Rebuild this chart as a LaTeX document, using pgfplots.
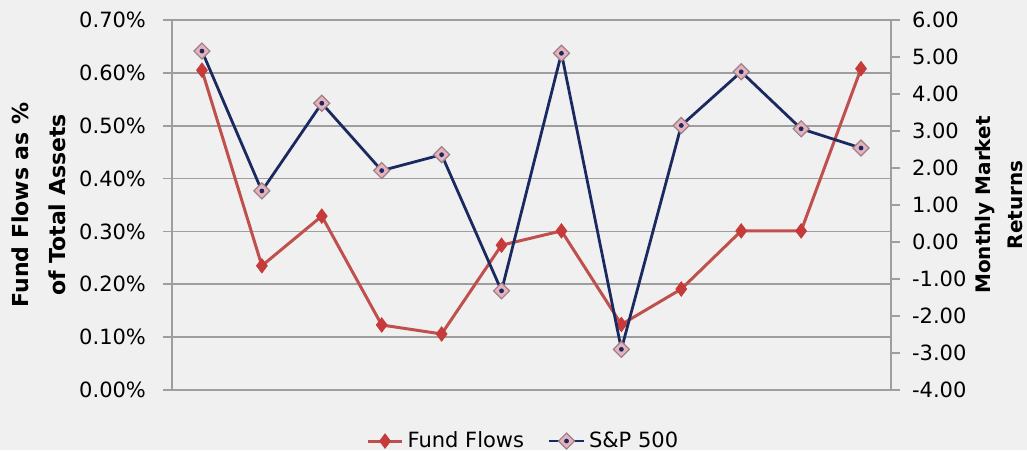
\documentclass[border=0pt]{standalone}
\usepackage{fontspec}
\setmainfont{DejaVu Sans}
\usepackage{pgfplots}
\pgfplotsset{compat=1.18}
\definecolor{bgc}{HTML}{F0F0F0}
\definecolor{gridc}{HTML}{9E9E9E}
\definecolor{fundred}{HTML}{C0504D}
\definecolor{fundmark}{HTML}{C63A3A}
\definecolor{spnavy}{HTML}{1A2A60}
\definecolor{spfill}{HTML}{E8B2BC}
\definecolor{spedge}{HTML}{9A8088}

% diamond with a small navy dot in the middle
\pgfdeclareplotmark{spdiamond}{%
  \pgfpathmoveto{\pgfqpoint{0pt}{\pgfplotmarksize}}%
  \pgfpathlineto{\pgfqpoint{\pgfplotmarksize}{0pt}}%
  \pgfpathlineto{\pgfqpoint{0pt}{-\pgfplotmarksize}}%
  \pgfpathlineto{\pgfqpoint{-\pgfplotmarksize}{0pt}}%
  \pgfpathclose
  \pgfsetfillcolor{spfill}\pgfsetstrokecolor{spedge}\pgfsetlinewidth{0.6pt}%
  \pgfusepathqfillstroke
  \pgfpathcircle{\pgfpointorigin}{0.3\pgfplotmarksize}%
  \pgfsetfillcolor{spnavy}%
  \pgfusepathqfill
}

\pgfplotsset{
  fund/.style={color=fundred, line width=1.5pt, mark=diamond*, mark size=3.6pt,
    mark options={fill=fundmark, draw=fundmark, line width=0.4pt}},
  sp/.style={color=spnavy, line width=1.4pt, mark=spdiamond, mark size=4pt},
  common/.style={scale only axis, width=359.5pt, height=185pt,
    xmin=-0.5, xmax=11.5, xtick=\empty,
    /pgf/number format/assume math mode=true,
    ticklabel style={font=\fontsize{10.5}{12}\selectfont},
    tick style={gridc, line width=0.9pt},
    tick align=outside, major tick length=4.5pt,
    axis line style={gridc, line width=0.9pt, -},
    every axis y label/.style={rotate=90, anchor=center, align=center}},
}

\begin{document}
\begin{tikzpicture}
\fill[bgc] (-86pt,-30pt) rectangle (427.5pt,195pt);
\begin{axis}[common,
  ymin=0, ymax=0.7,
  ytick={0,0.1,0.2,0.3,0.4,0.5,0.6,0.7},
  yticklabel={\pgfmathprintnumber[fixed,fixed zerofill,precision=2]{\tick}\%},
  yticklabel style={xshift=-5pt},
  axis x line*=bottom, axis y line*=left,
  ymajorgrids, grid style={gridc, line width=0.9pt},
  ylabel={Fund Flows as \%\\of Total Assets},
  ylabel style={at={(axis description cs:-0.185,0.5)},
    font=\bfseries\fontsize{11}{18.5}\selectfont},
]
\addplot[fund] coordinates {
  (0,0.605) (1,0.235) (2,0.329) (3,0.123) (4,0.106) (5,0.274)
  (6,0.301) (7,0.124) (8,0.191) (9,0.301) (10,0.301) (11,0.608)};
\end{axis}
\begin{axis}[common,
  ymin=-4, ymax=6,
  ytick={-4,-3,-2,-1,0,1,2,3,4,5,6},
  yticklabel={\pgfmathprintnumber[fixed,fixed zerofill,precision=2]{\tick}},
  yticklabel style={xshift=2.5pt},
  axis x line=none, axis y line*=right,
  ylabel={Monthly Market\\Returns},
  ylabel style={at={(axis description cs:1.150,0.5)},
    font=\bfseries\fontsize{10}{16}\selectfont},
  legend style={at={(axis description cs:0.49,-0.138)}, anchor=center,
    draw=none, fill=none, legend columns=2,
    font=\fontsize{10.5}{12}\selectfont,
    /tikz/every even column/.append style={column sep=10pt}},
]
\addlegendimage{fund}
\addlegendentry{Fund Flows}
\addplot[sp] coordinates {
  (0,5.16) (1,1.38) (2,3.75) (3,1.93) (4,2.36) (5,-1.32)
  (6,5.10) (7,-2.90) (8,3.15) (9,4.60) (10,3.06) (11,2.54)};
\addlegendentry{S\&P 500}
\end{axis}
\pgfresetboundingbox
\useasboundingbox (-86pt,-30pt) rectangle (427.5pt,195pt);
\end{tikzpicture}
\end{document}
